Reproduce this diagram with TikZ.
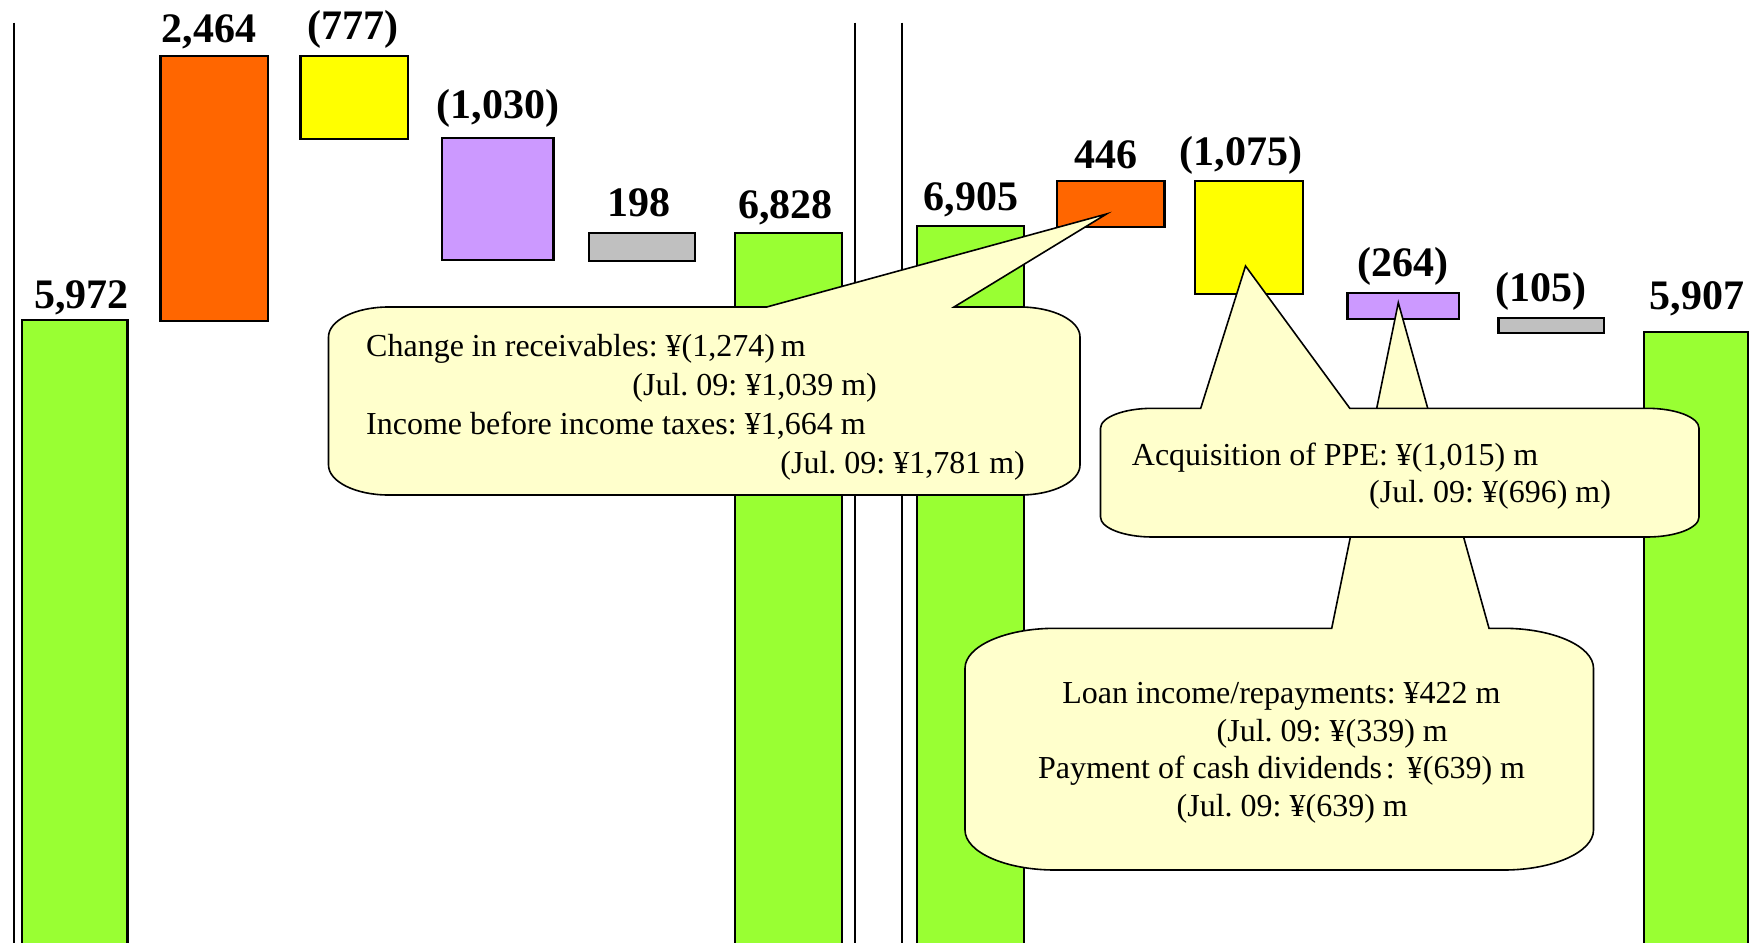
\documentclass[tikz,border=0pt]{standalone}
\usepackage{fontspec}
\setmainfont{Liberation Serif}
\frenchspacing
\definecolor{cgreen}{HTML}{99FF33}
\definecolor{corange}{HTML}{FF6600}
\definecolor{cyellow}{HTML}{FFFF00}
\definecolor{cpurple}{HTML}{CC99FF}
\definecolor{cgray}{HTML}{C0C0C0}
\definecolor{cnote}{HTML}{FFFFCC}
\newcommand\wedgebox[9]{%
 \filldraw[callout] ({#1+#5},#2) -- (#7,#2) -- (#9) -- (#8,#2) -- ({#3-#5},#2)
 .. controls ({#3-0.448*#5},#2) and (#3,{#2+0.448*#6}) .. (#3,{#2+#6})
 -- (#3,{#4-#6})
 .. controls (#3,{#4-0.448*#6}) and ({#3-0.448*#5},#4) .. ({#3-#5},#4)
 -- ({#1+#5},#4)
 .. controls ({#1+0.448*#5},#4) and (#1,{#4-0.448*#6}) .. (#1,{#4-#6})
 -- (#1,{#2+#6})
 .. controls (#1,{#2+0.448*#6}) and ({#1+0.448*#5},#2) .. ({#1+#5},#2) -- cycle;}
\begin{document}
\begin{tikzpicture}[x=0.5pt,y=-0.5pt,
  bar/.style={draw=black,line width=1.1pt},
  sep/.style={draw=black,line width=1pt},
  callout/.style={fill=cnote,draw=black,line width=0.8pt,line join=miter},
  num/.style={font=\bfseries\fontsize{21}{25}\selectfont,anchor=base,inner sep=0pt},
  txt/.style={font=\fontsize{16}{19}\selectfont,anchor=base west,inner sep=0pt}]
\useasboundingbox (0,0) rectangle (1749,942);
% separators
\draw[sep] (13.5,22.7) -- (13.5,945);
\draw[sep] (855.4,22.7) -- (855.4,945);
\draw[sep] (901.7,22.7) -- (901.7,945);
% bars, left half
\filldraw[bar,fill=cgreen]  (22,320) rectangle (127.5,946);
\filldraw[bar,fill=corange] (160.4,56) rectangle (268,320.7);
\filldraw[bar,fill=cyellow] (300.4,56) rectangle (408,139.3);
\filldraw[bar,fill=cpurple] (442,138.3) rectangle (553.4,260);
\filldraw[bar,fill=cgray]   (588.7,232.7) rectangle (695,260.7);
\filldraw[bar,fill=cgreen]  (735,232.7) rectangle (842,946);
% bars, right half
\filldraw[bar,fill=cgreen]  (917,226) rectangle (1023.8,946);
\filldraw[bar,fill=corange] (1056.7,181) rectangle (1164.5,226.7);
\filldraw[bar,fill=cyellow] (1195,181) rectangle (1302.8,293.7);
\filldraw[bar,fill=cpurple] (1347.5,293) rectangle (1458.6,319.3);
\filldraw[bar,fill=cgray]   (1498.4,318.3) rectangle (1603.8,332.7);
\filldraw[bar,fill=cgreen]  (1644,332.3) rectangle (1747.8,946);
% value labels
\node[num] (v1)  at (81.6,308.3)  {5,972};
\node[num] (v2)  at (209,42.7)    {2,464};
\node[num] (v3)  at (352.5,39.5)  {(777)};
\node[num] (v4)  at (497.8,118.3) {(1,030)};
\node[num] (v5)  at (639.4,216)   {198};
\node[num] (v6)  at (785.3,218.3) {6,828};
\node[num] (v7)  at (971,210)     {6,905};
\node[num] (v8)  at (1106,168.3)  {446};
\node[num] (v9)  at (1241,165)    {(1,075)};
\node[num] (v10) at (1402.7,276)  {(264)};
\node[num] (v11) at (1541,301.7)  {(105)};
\node[num] (v12) at (1697,309.3)  {5,907};
% callout tips
\coordinate (tipA) at (1106.5,214);
\coordinate (tipB) at (1245.5,266);
\coordinate (tipC) at (1398.3,302.7);
% callouts
\wedgebox{965}{628.3}{1593.5}{870}{90}{40}{1331.7}{1489}{tipC}
\wedgebox{1100.5}{408.3}{1699}{537}{52}{20}{1200.7}{1349.8}{tipB}
\wedgebox{328.5}{307}{1080}{495}{60}{30}{766.7}{954}{tipA}
% callout texts
\node[txt] (a1) at (365.8,356.5) {Change in receivables: ¥(1,274)\kern3pt m};
\node[txt] (a2) at (632,395.5)   {(Jul. 09: ¥1,039 m)};
\node[txt] (a3) at (365.8,434.5) {Income before income taxes: ¥1,664 m};
\node[txt] (a4) at (780,473.5)   {(Jul. 09: ¥1,781 m)};
\node[txt] (b1) at (1131.5,465)  {Acquisition of PPE: ¥(1,015) m};
\node[txt] (b2) at (1368.8,502)  {(Jul. 09: ¥(696) m)};
\node[txt] (c1) at (1062,703.3)  {Loan income/repayments: ¥422 m};
\node[txt] (c2) at (1216.3,741)  {(Jul. 09: ¥(339) m};
\node[txt] (c3) at (1037.6,778.3) {Payment of cash dividends\kern2pt:\kern6pt ¥(639) m};
\node[txt] (c4) at (1176.3,816.7) {(Jul. 09: ¥(639) m};
\end{tikzpicture}
\end{document}
